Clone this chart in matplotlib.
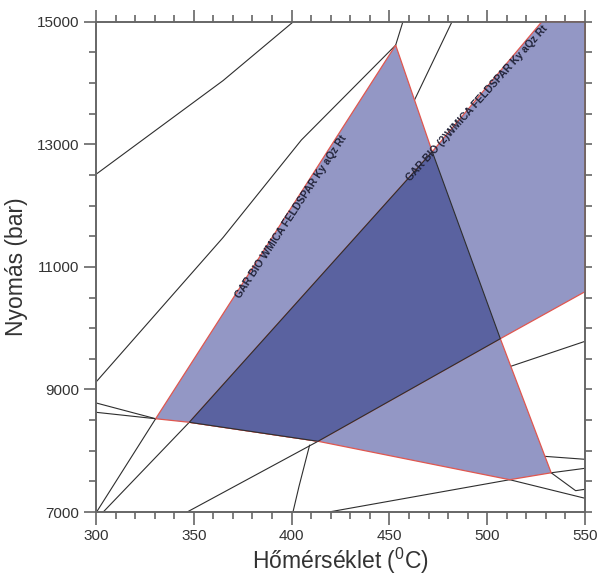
import numpy as np
import matplotlib.pyplot as plt
from matplotlib.patches import Polygon
from matplotlib.ticker import MultipleLocator, NullLocator

plt.rcParams['font.family'] = ['Liberation Sans', 'DejaVu Sans']

# field polygons (T in C, P in bar)
field_1 = [(453.2, 14618), (471.9, 12879), (506.7, 9828), (532.7, 7640),
           (511.5, 7527), (413.5, 8154), (347.7, 8464), (330.5, 8522)]
field_2 = [(347.7, 8464), (413.5, 8154), (506.7, 9828), (550, 10595),
           (550, 15000), (527.9, 15000), (471.9, 12879)]
overlap = [(347.7, 8464), (413.5, 8154), (506.7, 9828), (471.9, 12879)]

label_1 = 'GAR BIO WMICA FELDSPAR Ky aQz Rt'
label_2 = 'GAR BIO (2)WMICA FELDSPAR Ky aQz Rt'

x_ticks = [300, 350, 400, 450, 500, 550]
y_ticks = [7000, 9000, 11000, 13000, 15000]

# reaction lines
lines = [
    [(300, 12510), (365, 14040), (400.9, 15000)],
    [(300, 9120), (365, 11480), (405, 13070), (453.2, 14618)],
    [(453.2, 14618), (456.9, 15000)],
    [(462.8, 13721), (482, 15000)],
    [(300, 8780), (330.5, 8522)],
    [(300, 8627), (330.5, 8522)],
    [(300.3, 7000), (330.5, 8522)],
    [(303.7, 7000), (347.7, 8464)],
    [(346.6, 7000), (413.5, 8154)],
    [(400.7, 7000), (403.8, 7420), (409.2, 8090)],
    [(419, 7000), (511.5, 7527)],
    [(532.7, 7640), (550, 7713)],
    [(511.5, 7527), (550, 7224)],
    [(532.7, 7640), (545.2, 7348), (550, 7371)],
    [(529.1, 7909), (550, 7860)],
    [(512, 9377), (550, 9785)],
]

light = '#9397c5'
dark = '#5a62a0'
red = '#e0574f'
blk = '#2e2e2e'
grey = '#666666'

fig = plt.figure(figsize=(5.98, 5.76), dpi=100)
ax = fig.add_axes([0.1605, 0.1111, 0.8178, 0.8512])

for ln in lines:
    a = np.array(ln)
    ax.plot(a[:, 0], a[:, 1], color=blk, lw=0.8, zorder=2)

for f in (field_1, field_2):
    ax.add_patch(Polygon(f, closed=True, facecolor=light, edgecolor=red,
                         lw=0.9, zorder=3, clip_on=False))
ax.add_patch(Polygon(overlap, closed=True, facecolor=dark, edgecolor=blk,
                     lw=0.8, zorder=3.1, clip_on=False))

ax.text(374.5, 10459, label_1, rotation=56.5, rotation_mode='anchor',
        ha='left', va='bottom', fontsize=7.5, fontweight='bold',
        color='#22243a', zorder=4)
ax.text(461.4, 12363, label_2, rotation=48, rotation_mode='anchor',
        ha='left', va='bottom', fontsize=7.5, fontweight='bold',
        color='#22243a', zorder=4)

ax.set_xlim(300, 550)
ax.set_ylim(7000, 15000)
ax.set_xticks(x_ticks)
ax.set_yticks(y_ticks)
ax.xaxis.set_minor_locator(MultipleLocator(10))
ax.yaxis.set_minor_locator(MultipleLocator(500))

# right side: short ticks every 500 bar, no labels
ax2 = ax.twinx()
ax2.set_ylim(7000, 15000)
ax2.yaxis.set_major_locator(MultipleLocator(500))
ax2.yaxis.set_minor_locator(NullLocator())
ax2.tick_params(which='both', direction='out', color=grey, width=1.2,
                length=4.8, left=False, right=True,
                labelleft=False, labelright=False)

ax.tick_params(which='both', direction='out', color=grey, width=1.2,
               top=True, bottom=True, left=True, right=False,
               labelsize=11, labelcolor='#333333')
ax.tick_params(which='major', length=9, pad=3)
ax.tick_params(which='minor', length=4.8)

for a_ in (ax, ax2):
    for s in a_.spines.values():
        s.set_color(grey)
        s.set_linewidth(1.2)

ax.set_xlabel('Hőmérséklet ($^{\\mathregular{0}}$C)', fontsize=16.5,
              color='#333333', labelpad=2)
ax.set_ylabel('Nyomás (bar)', fontsize=16.5, color='#333333', labelpad=6)

fig.savefig('out.png', dpi=100)
